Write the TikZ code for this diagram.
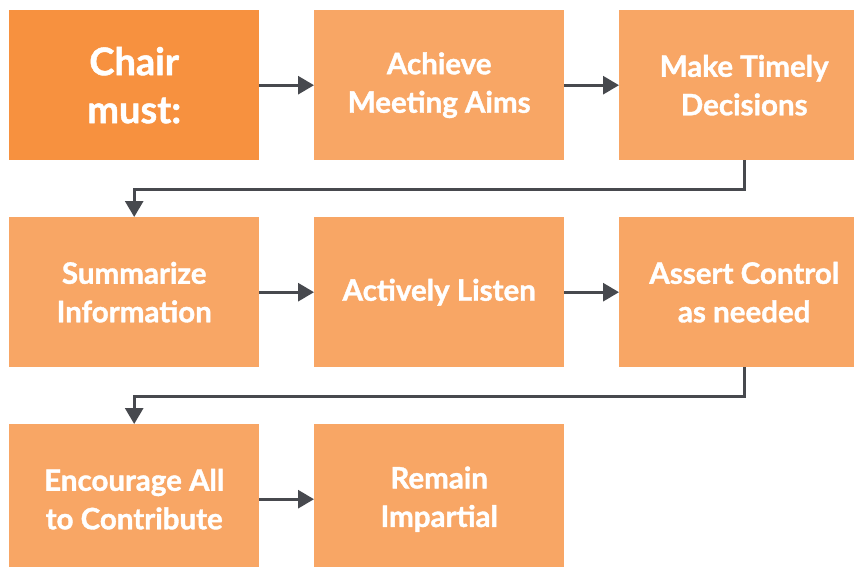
\documentclass[tikz,border=0pt]{standalone}
\usepackage{fontspec}
\setmainfont{Lato}[BoldFeatures={FakeBold=1.3}]
\usetikzlibrary{arrows.meta}
\definecolor{boxor}{HTML}{F8A665}
\definecolor{chairor}{HTML}{F7913F}
\definecolor{arrgray}{HTML}{47494E}
\tikzset{
  stepbox/.style={fill=boxor, draw=none, minimum width=250pt, minimum height=150pt, inner sep=0pt, anchor=north west, text=white, align=center, font=\bfseries\fontsize{29.5}{38.5}\selectfont},
  chairbox/.style={stepbox, fill=chairor, font=\bfseries\fontsize{38}{48}\selectfont},
  conn/.style={draw=arrgray, line width=3pt, -{Triangle[length=16pt,width=18pt]}},
}
\begin{document}
\begin{tikzpicture}[x=1pt,y=-1pt]
\useasboundingbox (0,0) rectangle (854,567);
\clip (0,0) rectangle (854,567);
\node[chairbox] (a) at (9,10) {Chair\\must:};
\node[stepbox] (b) at (314,10) {Achieve\\Meeting Aims};
\node[stepbox] (c) at (619,10) {Make Timely\\Decisions};
\node[stepbox] (d) at (9,217) {Summarize\\Information};
\node[stepbox] (e) at (314,217) {Actively Listen};
\node[stepbox] (f) at (619,217) {Assert Control\\as needed};
\node[stepbox] (g) at (9,424) {Encourage All\\to Contribute};
\node[stepbox] (h) at (314,424) {Remain\\Impartial};
\draw[conn] (a.east) -- (b.west);
\draw[conn] (b.east) -- (c.west);
\draw[conn] (c.south) -- ++(0,29) -| (d.north);
\draw[conn] (d.east) -- (e.west);
\draw[conn] (e.east) -- (f.west);
\draw[conn] (f.south) -- ++(0,29) -| (g.north);
\draw[conn] (g.east) -- (h.west);
\end{tikzpicture}
\end{document}
